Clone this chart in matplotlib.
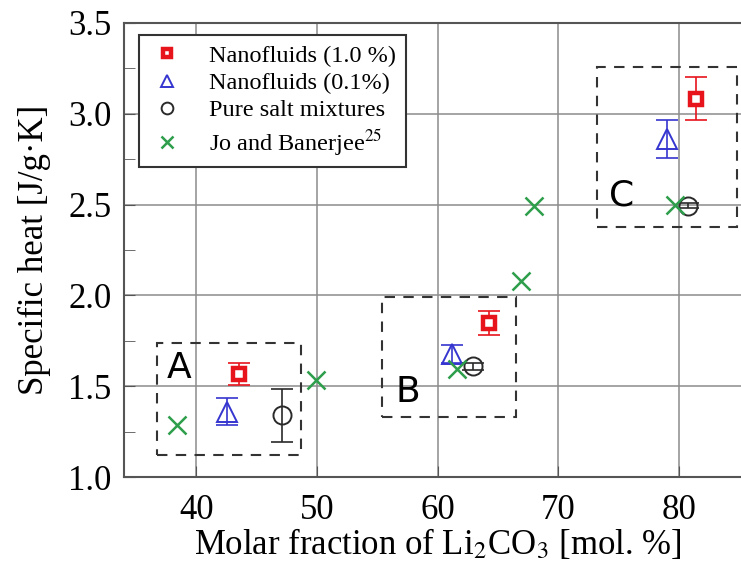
import numpy as np
import matplotlib
matplotlib.use("Agg")
import matplotlib.pyplot as plt
from matplotlib.patches import Rectangle

plt.rcParams['font.family'] = ['Liberation Serif', 'DejaVu Serif']
plt.rcParams['mathtext.fontset'] = 'stix'

# Nanofluids (1.0 %)
nf10_x = [43.5, 64.25, 81.4]
nf10_y = [1.566, 1.848, 3.084]
nf10_err = [0.06, 0.068, 0.12]

# Nanofluids (0.1 %)
nf01_x = [42.5, 61.15, 78.97]
nf01_y = [1.36, 1.676, 2.861]
nf01_err = [0.075, 0.05, 0.105]

# Pure salt mixtures
pure_x = [47.1, 62.9, 80.76]
pure_y = [1.34, 1.61, 2.495]
pure_err = [0.145, 0.02, 0.015]

# Jo and Banerjee
jb_x = [38.4, 49.95, 61.56, 66.9, 68.0, 79.7]
jb_y = [1.286, 1.533, 1.597, 2.077, 2.494, 2.5]

# dashed regions (x0, x1, y0, y1) and their letters
box_names = ['A', 'B', 'C']
box_x = [(36.7, 48.7), (55.4, 66.5), (73.2, 84.8)]
box_y = [(1.12, 1.74), (1.33, 1.99), (2.375, 3.26)]
letter_xy = [(38.55, 1.6), (57.5, 1.47), (75.2, 2.55)]

red = '#e8141c'
blue = '#3535d0'
black = '#2a2a2a'
green = '#2e9e4c'

fig = plt.figure(figsize=(7.41, 5.69), dpi=100)
ax = fig.add_axes([124 / 741, 92 / 569, 627.5 / 741, 454 / 569])

ax.grid(True, color='#8c8c8c', linewidth=1.1)
ax.set_axisbelow(True)

for (x0, x1), (y0, y1) in zip(box_x, box_y):
    ax.add_patch(Rectangle((x0, y0), x1 - x0, y1 - y0, fill=False,
                           edgecolor='#333333', linestyle=(0, (5, 4)),
                           linewidth=1.5, zorder=2))
for name, (lx, ly) in zip(box_names, letter_xy):
    ax.text(lx, ly, name, fontsize=26, family='DejaVu Sans',
            ha='center', va='center', color='black', zorder=3)

ax.errorbar(nf10_x, nf10_y, yerr=nf10_err, fmt='none', ecolor=red,
            elinewidth=1.2, capsize=8, capthick=1.2, zorder=4)
ax.errorbar(nf01_x, nf01_y, yerr=nf01_err, fmt='none', ecolor=blue,
            elinewidth=1.2, capsize=8, capthick=1.2, zorder=4)
ax.errorbar(pure_x, pure_y, yerr=pure_err, fmt='none', ecolor=black,
            elinewidth=1.2, capsize=8, capthick=1.2, zorder=4)

ax.plot(nf10_x, nf10_y, 's', ms=9, mfc='white', mec=red, mew=3.2,
        linestyle='none', label='Nanofluids (1.0 %)', zorder=5)
ax.plot(nf01_x, nf01_y, '^', ms=14, mfc='none', mec=blue, mew=1.4,
        linestyle='none', label='Nanofluids (0.1%)', zorder=5)
ax.plot(pure_x, pure_y, 'o', ms=13, mfc='none', mec=black, mew=1.4,
        linestyle='none', label='Pure salt mixtures', zorder=5)
ax.plot(jb_x, jb_y, 'x', ms=13, mec=green, mew=1.8,
        linestyle='none', label='Jo and Banerjee$^{25}$', zorder=5)

ax.set_xlim(34, 86)
ax.set_ylim(1.0, 3.5)
ax.set_xticks([40, 50, 60, 70, 80])
ax.set_yticks([1.0, 1.5, 2.0, 2.5, 3.0, 3.5])
ax.set_yticklabels(['1.0', '1.5', '2.0', '2.5', '3.0', '3.5'])
ax.set_yticks(np.arange(1.25, 3.5, 0.5), minor=True)
ax.tick_params(axis='both', which='major', direction='in', length=8,
               labelsize=25, color='#555555')
ax.tick_params(axis='x', which='major', pad=12)
ax.tick_params(axis='y', which='major', pad=9)
ax.tick_params(axis='y', which='minor', direction='in', length=8,
               color='#555555')
for side in ['left', 'bottom', 'top']:
    ax.spines[side].set_color('#555555')
    ax.spines[side].set_linewidth(1.5)
ax.spines['right'].set_visible(False)

ax.set_xlabel('Molar fraction of Li$_2$CO$_3$ [mol. %]', fontsize=25,
              labelpad=0)
ax.set_ylabel('Specific heat [J/g·K]', fontsize=25, labelpad=12)

leg = ax.legend(loc='upper left', bbox_to_anchor=(15 / 627.5, 1 - 12 / 454),
                fontsize=17.5, frameon=True, fancybox=False,
                edgecolor='#333333', framealpha=1, handlelength=1.5,
                handletextpad=1.0, borderpad=0.4, labelspacing=0.22,
                borderaxespad=0, markerscale=0.65)
leg.get_frame().set_linewidth(1.5)

fig.savefig('out.png', dpi=100)
